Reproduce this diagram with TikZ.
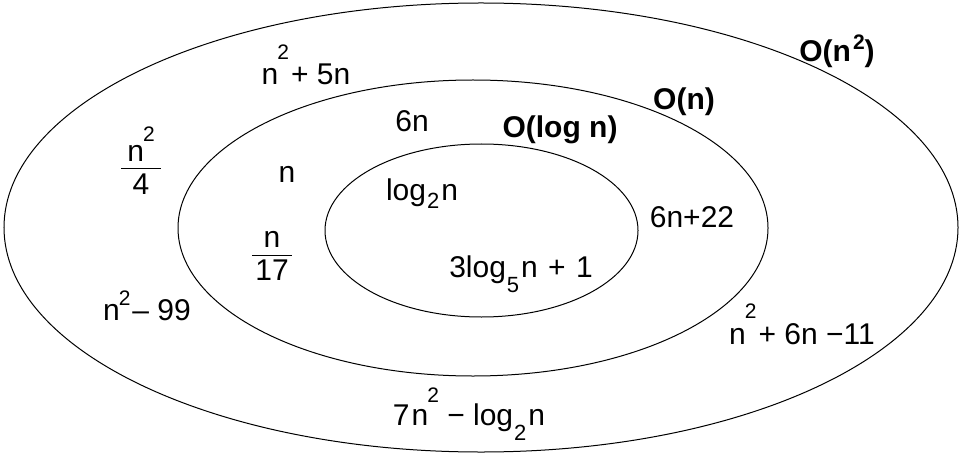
\documentclass[tikz,border=0pt]{standalone}
\usepackage{fontspec}
\setmainfont{Liberation Sans}

% raised square, lowered index, stacked fraction
\newcommand{\sqr}[1]{\raisebox{#1}{\fontsize{10.5}{12}\selectfont 2}}
\newcommand{\lowr}[2]{\kern0.5pt\raisebox{-#1}{\fontsize{11}{12}\selectfont #2}\kern1pt}
\newcommand{\frc}[2]{\renewcommand{\arraystretch}{1.0}\setlength{\arrayrulewidth}{0.5pt}%
  \begin{tabular}{@{}c@{}}\makebox[20pt]{#1}\\[-2pt]\hline\rule{0pt}{12pt}#2\end{tabular}}

\begin{document}
\begin{tikzpicture}[
  x=0.5pt, y=-0.5pt,
  set/.style={line width=0.5pt},
  term/.style={font=\fontsize{15}{18}\selectfont, inner sep=0pt, anchor=base},
  cls/.style={font=\fontsize{15}{18}\selectfont\bfseries, inner sep=0pt, anchor=base},
  frac/.style={font=\fontsize{15}{18}\selectfont, inner sep=0pt}
]
\useasboundingbox (0,0) rectangle (961,454);

% the three classes
\draw[set] (481,227.5) ellipse [x radius=238.5pt, y radius=112.25pt];
\draw[set] (473,228) ellipse [x radius=147.5pt, y radius=74pt];
\draw[set] (481.5,230.5) ellipse [x radius=78.25pt, y radius=43.25pt];

\node[cls] (on2) at (837,62) {O(n\kern1pt\sqr{6pt})};
\node[cls] (on) at (684,110) {O(n)};
\node[cls] (olog) at (560,138) {O(log n)};

% O(n^2)
\node[term] (sq1) at (306,85) {n\kern-0.5pt\sqr{12.5pt}\kern1pt+ 5n};
\node[frac] (sq2) at (141,166) {\frc{n\kern-0.5pt\sqr{10pt}}{4}};
\node[term] (sq3) at (147,320) {n\kern-0.5pt\sqr{7.5pt}\kern1pt– 99};
\node[term] (sq4) at (469,425) {7\kern1pt n\kern-0.5pt\sqr{11.5pt} − log\lowr{7.5pt}{2}n};
\node[term] (sq5) at (802,344) {n\kern-0.5pt\sqr{13pt}\kern1pt+ 6n −11};

% O(n)
\node[term] (ln1) at (412,132) {6n};
\node[term] (ln2) at (287,183) {n};
\node[frac] (ln3) at (272,257) {\frc{n}{17}};
\node[term] (ln4) at (692,227) {6n+22};

% O(log n)
\node[term] (lg1) at (422,200) {log\lowr{4pt}{2}n};
\node[term] (lg2) at (521,277) {3log\lowr{7.5pt}{5}n\kern1pt{} + {}\kern1pt1};

\end{tikzpicture}
\end{document}
